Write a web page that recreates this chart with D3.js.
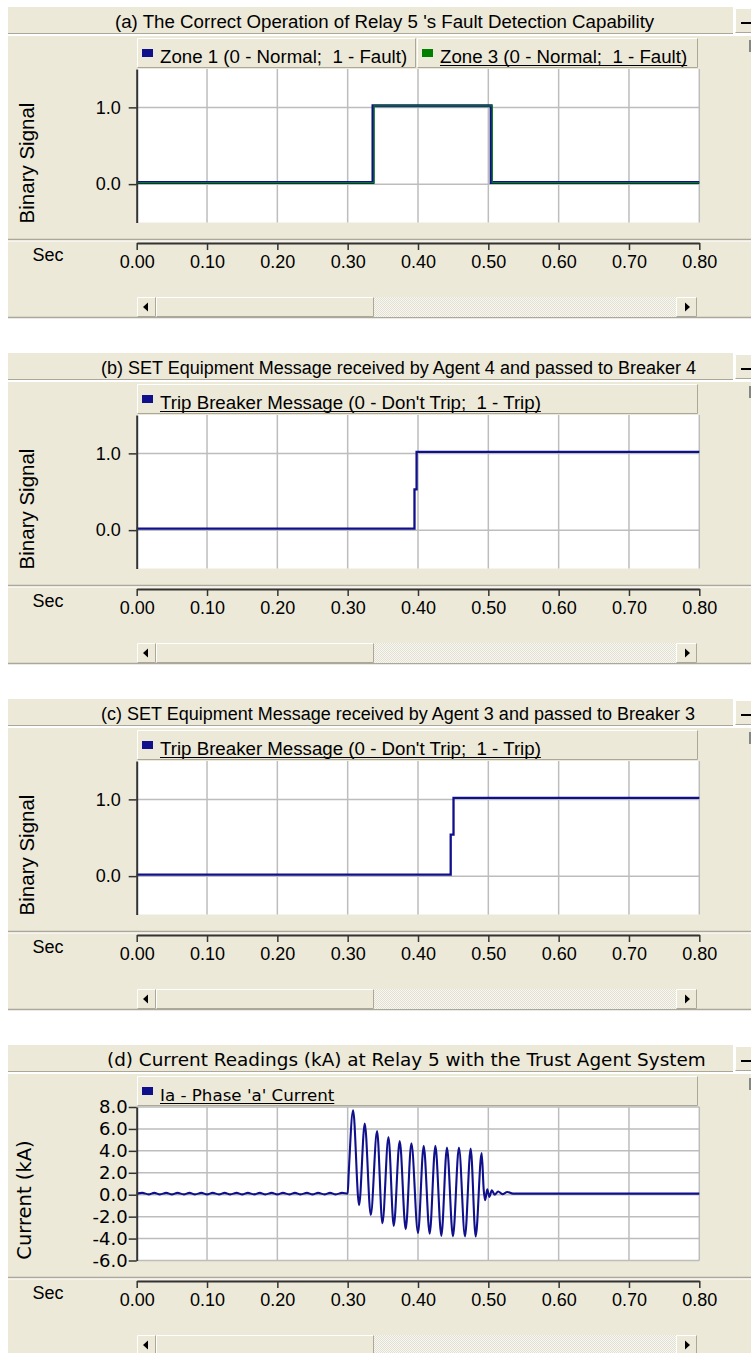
<!DOCTYPE html>
<html><head><meta charset="utf-8">
<script src="https://cdn.jsdelivr.net/npm/d3@7"></script>
<style>
html,body{margin:0;padding:0;background:#fff;}
svg{display:block;}
svg text{white-space:pre;}
</style></head>
<body>
<svg id="chart" width="751" height="1353"></svg>
<script>
// ---------------- data ----------------
const panelTitles = [
  "(a) The Correct Operation of Relay 5 's Fault Detection Capability",
  "(b) SET Equipment Message received by Agent 4 and passed to Breaker 4",
  "(c) SET Equipment Message received by Agent 3 and passed to Breaker 3",
  "(d) Current Readings (kA) at Relay 5 with the Trust Agent System"
];
const timeTicks = [0, 0.1, 0.2, 0.3, 0.4, 0.5, 0.6, 0.7, 0.8];
const timeTickLabels = ["0.00","0.10","0.20","0.30","0.40","0.50","0.60","0.70","0.80"];
const binaryTicks = [0, 1];
const binaryTickLabels = ["0.0", "1.0"];
const currentTicks = [-6, -4, -2, 0, 2, 4, 6, 8];
const currentTickLabels = ["-6.0","-4.0","-2.0","0.0","2.0","4.0","6.0","8.0"];
const legendZone1 = "Zone 1 (0 - Normal;  1 - Fault)";
const legendZone3 = "Zone 3 (0 - Normal;  1 - Fault)";
const legendTrip = "Trip Breaker Message (0 - Don't Trip;  1 - Trip)";
const legendCurrent = "Ia - Phase 'a' Current";

// [time (s), value]
const zone1Signal = [[0,0.02],[0.336,0.02],[0.336,1.02],[0.504,1.02],[0.504,0.02],[0.8,0.02]];
const zone3Signal = [[0,0.02],[0.3375,0.02],[0.3375,1.02],[0.5055,1.02],[0.5055,0.02],[0.8,0.02]];
const agent4Trip = [[0,0.02],[0.395,0.02],[0.395,0.53],[0.398,0.53],[0.398,1.02],[0.8,1.02]];
const agent3Trip = [[0,0.02],[0.4465,0.02],[0.4465,0.54],[0.4505,0.54],[0.4505,1.02],[0.8,1.02]];
const phaseACurrent = [
  [0.000,0.10],[0.008,0.17],[0.017,0.03],[0.025,0.17],[0.033,0.03],[0.042,0.17],[0.050,0.03],
  [0.058,0.17],[0.067,0.03],[0.075,0.17],[0.083,0.03],[0.092,0.17],[0.100,0.03],[0.108,0.17],
  [0.117,0.03],[0.125,0.17],[0.133,0.03],[0.142,0.17],[0.150,0.03],[0.158,0.17],[0.167,0.03],
  [0.175,0.17],[0.183,0.03],[0.192,0.17],[0.200,0.03],[0.208,0.17],[0.217,0.03],[0.225,0.17],
  [0.233,0.03],[0.242,0.17],[0.250,0.03],[0.258,0.17],[0.267,0.03],[0.275,0.17],[0.283,0.03],
  [0.292,0.17],[0.300,0.10],
  [0.3015,2.0],[0.3077,7.7],[0.3162,-0.95],[0.3243,6.5],[0.3328,-1.85],[0.3418,5.8],
  [0.3494,-2.6],[0.3580,5.25],[0.3655,-2.85],[0.3740,4.9],[0.3825,-3.15],[0.3906,4.7],
  [0.4000,-3.5],[0.4081,4.45],[0.4166,-3.55],[0.4247,4.45],[0.4332,-3.75],[0.4412,4.3],
  [0.4497,-3.8],[0.4582,4.3],[0.4668,-3.8],[0.4749,4.2],[0.4820,-3.8],[0.4905,3.8],
  [0.4935,0.4],[0.4955,-0.5],[0.4985,0.5],[0.5015,-0.2],[0.5050,0.4],[0.5090,0.0],
  [0.5140,0.3],[0.5200,0.05],[0.5270,0.25],[0.5350,0.1],[0.8000,0.1]
];

// ---------------- style ----------------
const BEIGE = "#ECE9D8";
const SHADOW = "#ACA899";
const NAVY = "#10108C";
const GREEN = "#008000";
const GRID = "#BDBDBD";
const AX = "#333333";
const ARIAL = "'Liberation Sans', Arial, sans-serif";
const VERD = "'DejaVu Sans', Verdana, sans-serif";

const svg = d3.select("#chart");
const defs = svg.append("defs");
const pat = defs.append("pattern").attr("id","track").attr("width",2).attr("height",2)
  .attr("patternUnits","userSpaceOnUse");
pat.append("rect").attr("width",2).attr("height",2).attr("fill","#F8F7F2");
pat.append("rect").attr("width",1).attr("height",1).attr("fill","#E2DFD3");
pat.append("rect").attr("x",1).attr("y",1).attr("width",1).attr("height",1).attr("fill","#E2DFD3");

const x = d3.scaleLinear().domain([0, 0.8]).range([136.7, 699.3]);

function bevelBox(g, x0, y0, w, h, fill) {
  g.append("rect").attr("x",x0).attr("y",y0).attr("width",w).attr("height",h).attr("fill",fill || BEIGE);
  g.append("path").attr("d",`M${x0+0.5},${y0+h-0.5}V${y0+0.5}H${x0+w-0.5}`)
    .attr("stroke","#fff").attr("fill","none");
  g.append("path").attr("d",`M${x0+0.5},${y0+h-0.5}H${x0+w-0.5}V${y0+0.5}`)
    .attr("stroke",SHADOW).attr("fill","none");
}

const panels = [
  { top: 0, title: panelTitles[0], titleX: 115, titleFont: ARIAL, titleSize: 18.7,
    legFont: ARIAL, legSize: 18.7, yFont: ARIAL, yTickSize: 18,
    yLabel: "Binary Signal", yDomain: [-0.5, 1.5], yTicks: binaryTicks, yTickLabels: binaryTickLabels,
    yPad: 8, yLabelX: 34, yLabelY: 163, yLabelSize: 20.5,
    legends: [ {label: legendZone1, color: NAVY, x0: 137, x1: 416, underline: false},
               {label: legendZone3, color: GREEN, x0: 417, x1: 698, underline: true} ],
    series: [ {data: zone1Signal, color: NAVY, width: 3, curve: d3.curveLinear},
              {data: zone3Signal, color: GREEN, width: 1.2, curve: d3.curveLinear} ] },
  { top: 346, title: panelTitles[1], titleX: 101, titleFont: ARIAL, titleSize: 18,
    legFont: ARIAL, legSize: 18.7, yFont: ARIAL, yTickSize: 18,
    yLabel: "Binary Signal", yDomain: [-0.5, 1.5], yTicks: binaryTicks, yTickLabels: binaryTickLabels,
    yPad: 8, yLabelX: 34, yLabelY: 163, yLabelSize: 20.5,
    legends: [ {label: legendTrip, color: NAVY, x0: 137, x1: 698, underline: true} ],
    series: [ {data: agent4Trip, color: NAVY, width: 2.3, curve: d3.curveLinear} ] },
  { top: 692, title: panelTitles[2], titleX: 101, titleFont: ARIAL, titleSize: 18,
    legFont: ARIAL, legSize: 18.7, yFont: ARIAL, yTickSize: 18,
    yLabel: "Binary Signal", yDomain: [-0.5, 1.5], yTicks: binaryTicks, yTickLabels: binaryTickLabels,
    yPad: 8, yLabelX: 34, yLabelY: 163, yLabelSize: 20.5,
    legends: [ {label: legendTrip, color: NAVY, x0: 137, x1: 698, underline: true} ],
    series: [ {data: agent3Trip, color: NAVY, width: 2.3, curve: d3.curveLinear} ] },
  { top: 1038, title: panelTitles[3], titleX: 107, titleFont: VERD, titleSize: 18.4,
    legFont: VERD, legSize: 16.7, yFont: VERD, yTickSize: 18,
    yLabel: "Current (kA)", yDomain: [-6, 8], yTicks: currentTicks, yTickLabels: currentTickLabels,
    yPad: 1, yLabelX: 31, yLabelY: 162, yLabelSize: 19.5,
    legends: [ {label: legendCurrent, color: NAVY, x0: 137, x1: 698, underline: true} ],
    series: [ {data: phaseACurrent, color: NAVY, width: 2.1, curve: d3.curveMonotoneX} ] }
];

function drawPanel(p) {
  const g = svg.append("g").attr("transform", `translate(0,${p.top})`);

  // title bar
  g.append("rect").attr("x",8).attr("y",7).attr("width",725).attr("height",26).attr("fill",BEIGE);
  g.append("line").attr("x1",8).attr("x2",733).attr("y1",33.5).attr("y2",33.5).attr("stroke",SHADOW);
  g.append("text").attr("x",p.titleX).attr("y",27.5).attr("font-family",p.titleFont)
    .attr("font-size",p.titleSize).attr("fill","#000").text(p.title);
  // minimise button
  bevelBox(g, 735, 8, 17, 25);
  g.append("line").attr("x1",741).attr("x2",751).attr("y1",23).attr("y2",23)
    .attr("stroke","#000").attr("stroke-width",2);

  // body
  g.append("rect").attr("x",8).attr("y",36).attr("width",743).attr("height",281).attr("fill",BEIGE);
  g.append("line").attr("x1",8).attr("x2",751).attr("y1",239.5).attr("y2",239.5).attr("stroke",SHADOW).attr("stroke-width",1.5);
  g.append("line").attr("x1",8).attr("x2",751).attr("y1",241).attr("y2",241).attr("stroke","#fff");
  g.append("line").attr("x1",8).attr("x2",751).attr("y1",317.5).attr("y2",317.5).attr("stroke",SHADOW).attr("stroke-width",1.5);
  g.append("line").attr("x1",750).attr("x2",750).attr("y1",40).attr("y2",52).attr("stroke","#666").attr("stroke-width",1.5);

  // legend
  p.legends.forEach(L => {
    bevelBox(g, L.x0, 38, L.x1 - L.x0, 30);
    g.append("rect").attr("x",L.x0 + 5).attr("y",49).attr("width",11).attr("height",8).attr("fill",L.color);
    const t = g.append("text").attr("x",L.x0 + 23).attr("y",63).attr("font-family",p.legFont)
      .attr("xml:space","preserve")
      .attr("font-size",p.legSize).attr("fill","#000").text(L.label);
    if (L.underline) {
      const len = t.node().getComputedTextLength();
      g.append("line").attr("x1",L.x0 + 23).attr("x2",L.x0 + 23 + len).attr("y1",65.5).attr("y2",65.5)
        .attr("stroke","#000").attr("stroke-width",1.2);
    }
  });

  // plot area
  const y = d3.scaleLinear().domain(p.yDomain).range([222.5, 69]);
  g.append("rect").attr("x",x(0)).attr("y",69).attr("width",x(0.8)-x(0)).attr("height",153.5).attr("fill","#fff");
  g.append("g").selectAll("line").data(timeTicks.filter(d => d > 0)).join("line")
    .attr("x1",d => x(d)).attr("x2",d => x(d)).attr("y1",69).attr("y2",222.5)
    .attr("stroke",GRID).attr("stroke-width",1.5);
  g.append("g").selectAll("line").data(p.yTicks).join("line")
    .attr("x1",x(0)).attr("x2",x(0.8)).attr("y1",d => y(d)).attr("y2",d => y(d))
    .attr("stroke",GRID).attr("stroke-width",1.5);

  // series
  p.series.forEach(s => {
    const line = d3.line().x(d => x(d[0])).y(d => y(d[1])).curve(s.curve);
    g.append("path").datum(s.data).attr("d",line).attr("fill","none")
      .attr("stroke",s.color).attr("stroke-width",s.width).attr("stroke-linejoin","miter");
  });

  // y axis
  const ya = g.append("g").attr("transform",`translate(${x(0)},0)`)
    .call(d3.axisLeft(y).tickValues(p.yTicks).tickFormat((d,i) => p.yTickLabels[i])
      .tickSize(8).tickSizeOuter(0).tickPadding(p.yPad));
  ya.select(".domain").attr("stroke",AX).attr("stroke-width",2);
  ya.selectAll(".tick line").attr("stroke",AX).attr("stroke-width",1.5);
  ya.selectAll(".tick text").attr("font-family",p.yFont).attr("font-size",p.yTickSize).attr("fill","#000");

  g.append("text").attr("transform",`translate(${p.yLabelX},${p.yLabelY}) rotate(-90)`)
    .attr("text-anchor","middle").attr("font-family",p.yFont).attr("font-size",p.yLabelSize)
    .attr("fill","#000").text(p.yLabel);

  // x axis
  const xa = g.append("g").attr("transform","translate(0,243)")
    .call(d3.axisBottom(x).tickValues(timeTicks).tickFormat((d,i) => timeTickLabels[i])
      .tickSize(7).tickSizeOuter(0).tickPadding(5));
  xa.select(".domain").attr("stroke",AX).attr("stroke-width",2);
  xa.selectAll(".tick line").attr("stroke",AX).attr("stroke-width",1.5);
  xa.selectAll(".tick text").attr("font-family",ARIAL).attr("font-size",18).attr("fill","#000");
  g.append("text").attr("x",48).attr("y",261).attr("text-anchor","middle").attr("font-family",ARIAL)
    .attr("font-size",18).attr("fill","#000").text("Sec");

  // scrollbar
  g.append("rect").attr("x",156).attr("y",297).attr("width",520).attr("height",20).attr("fill","url(#track)");
  bevelBox(g, 156, 297, 218, 20);
  bevelBox(g, 137, 297, 19, 20);
  bevelBox(g, 676, 297, 21, 20);
  g.append("path").attr("d","M143,307L148,302.5L148,311.5Z").attr("fill","#000");
  g.append("path").attr("d","M690,307L685,302.5L685,311.5Z").attr("fill","#000");
}

panels.forEach(drawPanel);
</script>
</body></html>
